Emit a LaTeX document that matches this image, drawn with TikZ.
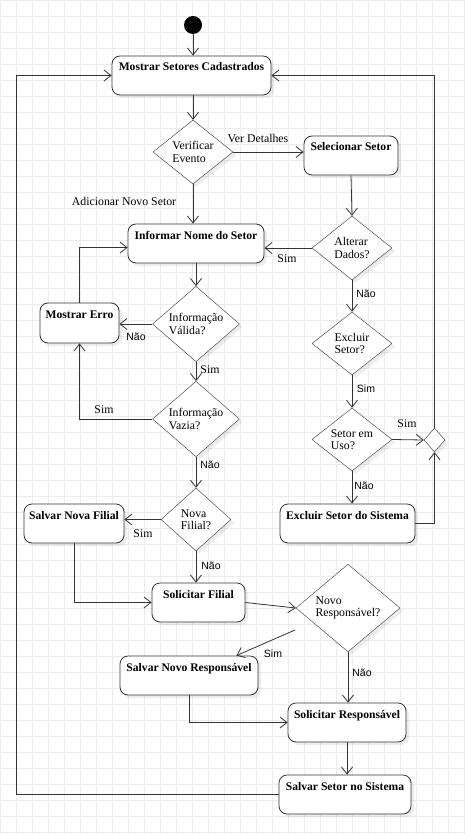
\documentclass[tikz,border=0pt]{standalone}
\usepackage{fontspec}
\setmainfont{Liberation Serif}
\newfontfamily\labelsans{Liberation Sans}
\usetikzlibrary{arrows.meta,shapes.geometric,shadows}
\definecolor{gridcol}{HTML}{EBEBEB}
\definecolor{linecol}{HTML}{333333}
\tikzset{
  action/.style={rectangle,rounded corners=8pt,draw=linecol,thick,fill=white,
    font=\fontsize{11.6}{13}\selectfont\bfseries,inner xsep=2pt,inner ysep=4pt,
    text height=11pt,text depth=20pt,minimum height=39pt,
    drop shadow={shadow xshift=3pt,shadow yshift=-3pt,opacity=0.15}},
  decision/.style={diamond,draw=linecol,fill=white,inner sep=0pt,align=left,
    font=\fontsize{11.8}{12.5}\selectfont,
    drop shadow={shadow xshift=3pt,shadow yshift=-3pt,opacity=0.15}},
  flow/.style={draw=linecol,thick,-{Straight Barb[length=7pt,width=11pt]}},
  lbl/.style={font=\fontsize{11.8}{13}\selectfont,inner sep=0pt},
  lblsans/.style={font=\labelsans\fontsize{10.5}{12}\selectfont,inner sep=0pt},
}

\begin{document}
\begin{tikzpicture}[x=1pt,y=-1pt]
  \useasboundingbox (0,0) rectangle (465,834);
  \fill[white] (0,0) rectangle (465,834);
  \draw[gridcol,step=16pt] (0,0) grid (465,834);

  % start and main menu
  \node[circle,fill=black,minimum size=18pt,inner sep=0pt] (start) at (193,25) {};
  \node[action,minimum width=159pt] (mostrar) at (191.5,75.5) {Mostrar Setores Cadastrados};
  \node[decision,minimum width=80pt,minimum height=64pt] (verif) at (193,152) {Verificar\\Evento};
  \node[action,minimum width=94pt] (selec) at (351,155.5) {Selecionar Setor};

  % left branch: new sector
  \node[action,minimum width=136pt] (informar) at (196,243.5) {Informar Nome do Setor};
  \node[decision,minimum width=87pt,minimum height=56pt] (valida) at (196,324) {Informação\\Válida?};
  \node[action,minimum width=79pt,minimum height=40pt] (erro) at (79.5,323) {Mostrar Erro};
  \node[decision,minimum width=87pt,minimum height=56pt] (vazia) at (196,419) {Informação\\Vazia?};
  \node[decision,minimum width=70pt,minimum height=63pt] (novafil) at (196,519.5) {Nova\\Filial?};
  \node[action,minimum width=100pt] (salvfil) at (74,523.5) {Salvar Nova Filial};
  \node[action,minimum width=93pt] (solfil) at (198.5,602.5) {Solicitar Filial};
  \node[decision,minimum width=104pt,minimum height=80pt] (novoresp) at (348,608) {Novo\\Responsável?};
  \node[action,minimum width=138pt] (salvresp) at (189,675.5) {Salvar Novo Responsável};
  \node[action,minimum width=118pt] (solresp) at (347,722.5) {Solicitar Responsável};
  \node[action,minimum width=132pt] (salvsetor) at (345,794.5) {Salvar Setor no Sistema};

  % right branch: existing sector
  \node[decision,minimum width=80pt,minimum height=64pt] (alterar) at (352,248) {Alterar\\Dados?};
  \node[decision,minimum width=80pt,minimum height=63pt] (excluir) at (352,343.5) {Excluir\\Setor?};
  \node[decision,minimum width=80pt,minimum height=63pt] (emuso) at (352,439.5) {Setor em\\Uso?};
  \node[decision,minimum width=21pt,minimum height=24pt] (merge) at (434.5,440) {};
  \node[action,minimum width=135pt] (excsis) at (347.5,523.5) {Excluir Setor do Sistema};

  \coordinate (leftrail) at (16,0);
  \coordinate (simsrc) at (295,630);

  % connectors
  \draw[flow] (start.south) -- (start.south |- mostrar.north);
  \draw[flow] (verif.north |- mostrar.south) -- (verif.north);
  \draw[flow] (verif.east) -- (verif.east -| selec.west);
  \draw[flow] (selec.south) -- (alterar.north);
  \draw[flow] (verif.south) -- (verif.south |- informar.north);
  \draw[flow] (alterar.west) -- (alterar.west -| informar.east);
  \draw[flow] (informar.south) -- (valida.north);
  \draw[flow] (valida.west) -- (valida.west -| erro.east);
  \draw[flow] (erro.north) |- ([yshift=-4pt]informar.west);
  \draw[flow] (valida.south) -- (vazia.north);
  \draw[flow] (vazia.west) -| (erro.south);
  \draw[flow] (vazia.south) -- (novafil.north);
  \draw[flow] (novafil.west) -- (novafil.west -| salvfil.east);
  \draw[flow] (novafil.south) -- (novafil.south |- solfil.north);
  \draw[flow] (salvfil.south) |- (solfil.west);
  \draw[flow] (solfil.east) -- (novoresp.west);
  \draw[flow] (simsrc) -- ([xshift=-22pt]salvresp.north east);
  \draw[flow] (novoresp.south) -- (novoresp.south |- solresp.north);
  \draw[flow] (salvresp.south) |- (solresp.west);
  \draw[flow] (solresp.south) -- (solresp.south |- salvsetor.north);
  \draw[flow] (salvsetor.west) -- (salvsetor.west -| leftrail) |- (mostrar.west);
  \draw[flow] (alterar.south) -- (excluir.north);
  \draw[flow] (excluir.south) -- (emuso.north);
  \draw[flow] (emuso.east) -- (merge.west);
  \draw[flow] (emuso.south) -- (emuso.south |- excsis.north);
  \draw[flow] (excsis.east) -| (merge.south);
  \draw[flow] (merge.north) |- (mostrar.east);

  % labels
  \node[lbl] (lverdet) at (258,138) {Ver Detalhes};
  \node[lbl] (ladic) at (124,201) {Adicionar Novo Setor};
  \node[lbl] (lsim1) at (287,259) {Sim};
  \node[lblsans] (lnao1) at (136,337) {Não};
  \node[lbl] (lsim2) at (210,370) {Sim};
  \node[lbl] (lsim3) at (104,410) {Sim};
  \node[lblsans] (lnao2) at (210,465) {Não};
  \node[lbl] (lsim4) at (143,534) {Sim};
  \node[lblsans] (lnao3) at (211,566) {Não};
  \node[lblsans] (lsim5) at (273,654) {Sim};
  \node[lblsans] (lnao4) at (362,673) {Não};
  \node[lblsans] (lnao5) at (366,294) {Não};
  \node[lblsans] (lsim6) at (366,389) {Sim};
  \node[lbl] (lsim7) at (407,424) {Sim};
  \node[lblsans] (lnao6) at (364,486) {Não};
\end{tikzpicture}
\end{document}
